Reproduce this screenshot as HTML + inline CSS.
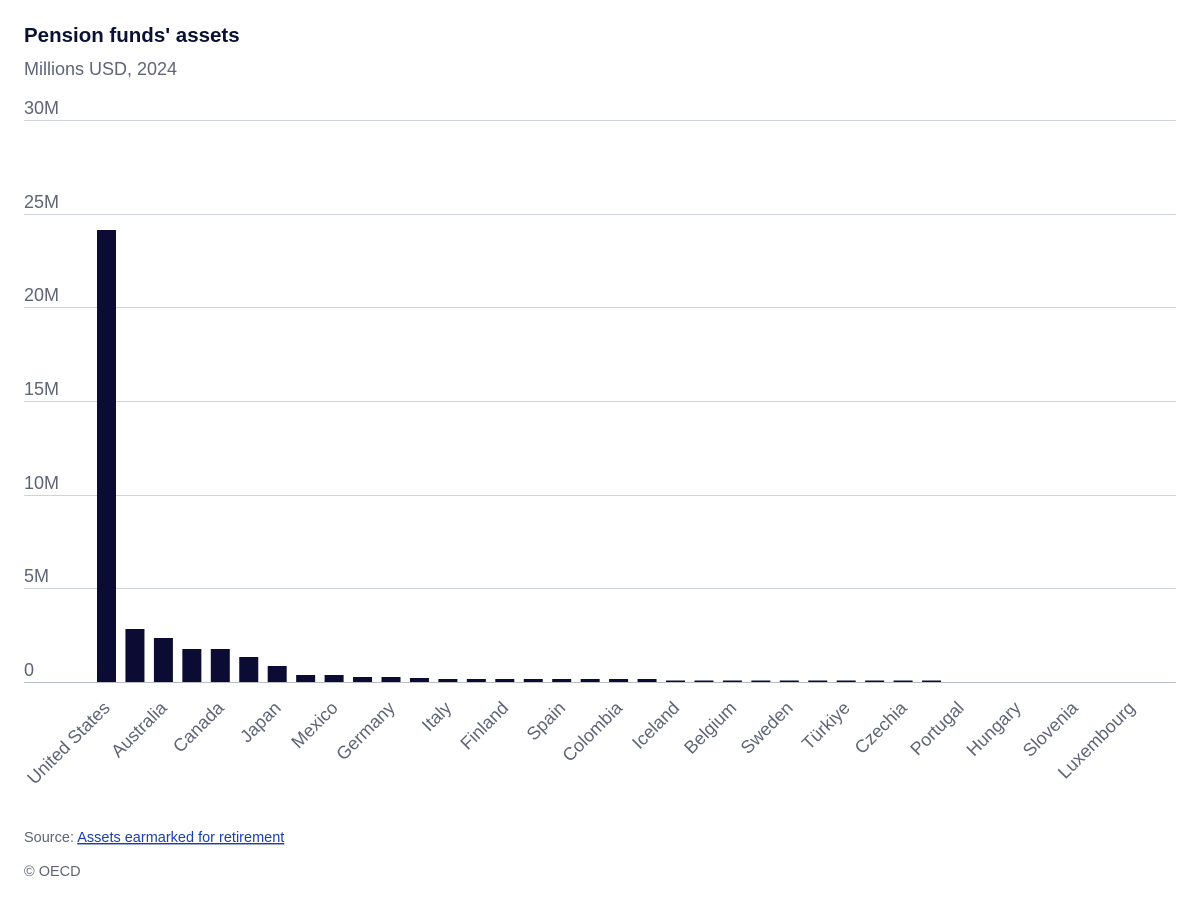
<!DOCTYPE html>
<html><head><meta charset="utf-8"><style>
body{margin:0;background:#fff;width:1200px;height:900px;overflow:hidden;font-family:"Liberation Sans",sans-serif}
</style></head><body>
<svg width="1200" height="900" xmlns="http://www.w3.org/2000/svg" font-family="Liberation Sans, sans-serif">
<text x="24" y="42" font-size="20.5" font-weight="bold" fill="#0b1133">Pension funds' assets</text>
<text x="24" y="75" font-size="18" fill="#5f6577">Millions USD, 2024</text>
<g stroke="#cfd3da" stroke-width="1">
<line x1="24" x2="1176" y1="120.5" y2="120.5"/><line x1="24" x2="1176" y1="214.5" y2="214.5"/>
<line x1="24" x2="1176" y1="307.5" y2="307.5"/><line x1="24" x2="1176" y1="401.5" y2="401.5"/>
<line x1="24" x2="1176" y1="495.5" y2="495.5"/><line x1="24" x2="1176" y1="588.5" y2="588.5"/>
<line x1="24" x2="1176" y1="682.5" y2="682.5" stroke="#b8bcc6"/>
</g>
<g font-size="18" fill="#5f6577">
<text x="24" y="114">30M</text><text x="24" y="208">25M</text><text x="24" y="301">20M</text>
<text x="24" y="395">15M</text><text x="24" y="489">10M</text><text x="24" y="582">5M</text><text x="24" y="676">0</text>
</g>
<g fill="#0b0b33">
<rect x="97" y="230" width="19" height="452"/>
<rect x="125.45" y="629" width="19" height="53"/>
<rect x="153.9" y="638" width="19" height="44"/>
<rect x="182.35" y="649" width="19" height="33"/>
<rect x="210.8" y="649" width="19" height="33"/>
<rect x="239.25" y="657" width="19" height="25"/>
<rect x="267.7" y="666" width="19" height="16"/>
<rect x="296.15" y="675" width="19" height="7"/>
<rect x="324.6" y="675" width="19" height="7"/>
<rect x="353.05" y="677" width="19" height="5"/>
<rect x="381.5" y="677" width="19" height="5"/>
<rect x="409.95" y="678" width="19" height="4"/>
<rect x="438.4" y="679" width="19" height="3"/>
<rect x="466.85" y="679" width="19" height="3"/>
<rect x="495.3" y="679" width="19" height="3"/>
<rect x="523.75" y="679" width="19" height="3"/>
<rect x="552.2" y="679" width="19" height="3"/>
<rect x="580.65" y="679" width="19" height="3"/>
<rect x="609.1" y="679" width="19" height="3"/>
<rect x="637.55" y="679" width="19" height="3"/>
<rect x="666" y="680.5" width="19" height="1.5"/>
<rect x="694.45" y="680.5" width="19" height="1.5"/>
<rect x="722.9" y="680.5" width="19" height="1.5"/>
<rect x="751.35" y="680.5" width="19" height="1.5"/>
<rect x="779.8" y="680.5" width="19" height="1.5"/>
<rect x="808.25" y="680.5" width="19" height="1.5"/>
<rect x="836.7" y="680.5" width="19" height="1.5"/>
<rect x="865.15" y="680.5" width="19" height="1.5"/>
<rect x="893.6" y="680.5" width="19" height="1.5"/>
<rect x="922.05" y="680.5" width="19" height="1.5"/>
</g>
<g font-size="18" fill="#5f6577" text-anchor="end">
<text transform="translate(111,709) rotate(-45)">United States</text>
<text transform="translate(168,709) rotate(-45)">Australia</text>
<text transform="translate(225,709) rotate(-45)">Canada</text>
<text transform="translate(282,709) rotate(-45)">Japan</text>
<text transform="translate(339,709) rotate(-45)">Mexico</text>
<text transform="translate(396,709) rotate(-45)">Germany</text>
<text transform="translate(452.5,709) rotate(-45)">Italy</text>
<text transform="translate(509.5,709) rotate(-45)">Finland</text>
<text transform="translate(566.5,709) rotate(-45)">Spain</text>
<text transform="translate(623.5,709) rotate(-45)">Colombia</text>
<text transform="translate(680.5,709) rotate(-45)">Iceland</text>
<text transform="translate(737.5,709) rotate(-45)">Belgium</text>
<text transform="translate(794,709) rotate(-45)">Sweden</text>
<text transform="translate(851,709) rotate(-45)">Türkiye</text>
<text transform="translate(908,709) rotate(-45)">Czechia</text>
<text transform="translate(965,709) rotate(-45)">Portugal</text>
<text transform="translate(1022,709) rotate(-45)">Hungary</text>
<text transform="translate(1079,709) rotate(-45)">Slovenia</text>
<text transform="translate(1136,709) rotate(-45)">Luxembourg</text>
</g>
<text x="24" y="842" font-size="14.5" fill="#5f6577">Source: <tspan fill="#1a3fb0" text-decoration="underline">Assets earmarked for retirement</tspan></text>
<text x="24" y="876" font-size="14.5" fill="#5f6577">© OECD</text>
</svg>
</body></html>
